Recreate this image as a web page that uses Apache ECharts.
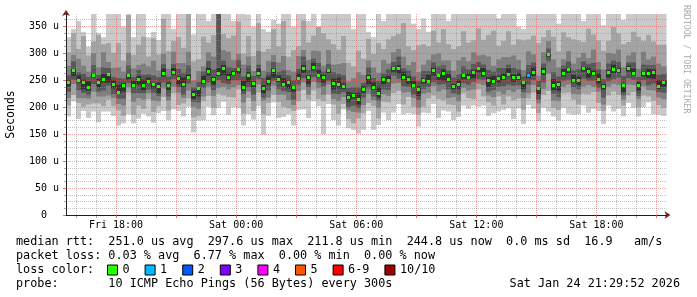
<!DOCTYPE html>
<html><head><meta charset="utf-8">
<script src="https://cdn.jsdelivr.net/npm/echarts@6/dist/echarts.min.js"></script>
<style>html,body{margin:0;padding:0;background:#fff}#c{width:697px;height:297px}</style>
</head><body><div id="c"></div>
<script>
// time: hours since Fri 00:00, one step every 15 min
const startHour = 15.5;
const stepHours = 0.25;
const endHour = 45.5;

// sorted ping values per step (microseconds): p1 = fastest ... p10 = slowest
const p1 = [183,211,178,193,180,192,172,192,192,184,166,170,187,170,179,188,183,171,189,193,176,196,193,183,201,153,175,176,201,185,199,210,186,200,198,166,187,177,202,149,184,209,180,182,187,166,195,196,180,211,202,150,206,176,166,196,161,158,151,158,193,158,167,190,176,190,206,187,189,187,164,190,189,206,180,194,192,176,182,203,197,203,201,203,184,189,192,195,198,178,198,169,204,197,174,199,192,183,175,199,188,186,187,203,190,197,193,169,203,192,197,183,208,199,183,200,209,187,186,184];
const p2 = [203,223,208,201,205,207,207,202,214,202,194,184,227,186,203,197,215,191,202,219,194,226,204,207,216,181,184,211,221,199,225,222,219,218,233,188,217,193,227,187,208,223,210,201,198,193,211,232,214,231,215,211,224,205,188,206,178,170,179,189,208,202,179,210,209,226,230,205,219,201,186,201,216,222,215,213,205,204,192,226,217,215,233,220,209,203,220,205,220,213,216,195,216,227,189,223,230,199,195,226,227,214,205,225,224,228,208,193,222,229,223,203,222,228,200,222,220,212,204,199];
const p3 = [217,243,217,217,216,229,220,220,222,217,206,203,237,210,217,214,226,212,211,235,212,238,227,217,231,201,197,220,238,221,236,238,233,237,241,209,229,211,242,212,218,240,223,223,213,204,230,246,223,247,235,223,242,215,211,219,194,191,190,204,225,213,199,224,221,244,245,227,228,217,199,225,227,239,229,233,217,219,211,236,231,233,244,241,222,219,229,224,232,228,233,217,226,241,207,234,262,212,211,238,242,225,224,238,241,238,229,205,238,243,241,214,242,241,215,239,232,231,218,215];
const p4 = [229,251,232,227,222,243,229,231,240,224,216,216,245,226,226,226,233,227,221,246,220,252,237,223,244,210,209,236,246,232,250,245,243,250,250,224,237,223,252,218,231,249,234,230,228,214,242,254,237,256,246,239,249,225,224,228,200,203,198,218,235,220,212,233,232,259,253,239,238,223,213,234,238,247,242,243,233,226,223,245,242,247,252,251,229,232,238,239,242,240,241,228,242,250,214,246,285,225,219,249,251,237,234,253,249,249,236,218,248,252,255,222,254,251,221,250,241,244,228,227];
const p5 = [239,258,246,233,231,255,237,246,246,235,225,229,252,236,242,232,245,235,226,257,232,260,243,237,253,215,220,243,259,242,258,260,249,259,262,231,247,237,258,226,242,255,247,239,235,229,250,264,243,268,255,246,263,233,235,234,210,216,205,227,243,232,218,243,247,266,262,250,244,236,221,244,245,259,251,249,247,234,234,252,252,254,265,257,238,244,246,250,257,247,250,234,254,258,224,260,294,232,230,257,263,246,241,266,255,259,244,233,255,263,264,228,266,259,231,257,254,253,234,238];
const p6 = [250,271,259,251,248,262,253,262,263,250,241,245,262,249,258,251,255,245,246,272,246,273,258,255,261,231,237,258,274,256,273,278,264,267,273,249,265,248,272,241,257,272,259,254,250,239,264,278,259,282,269,260,271,253,255,244,228,226,227,239,260,246,238,256,258,275,278,266,257,249,239,254,260,274,261,270,262,243,251,262,263,269,275,273,256,258,258,263,272,261,264,248,264,275,238,274,299,252,248,271,274,260,257,275,274,268,263,243,269,279,274,243,277,272,247,266,271,270,250,250];
const p7 = [259,285,265,262,256,278,260,274,273,256,254,253,277,256,269,260,261,259,256,280,257,280,271,264,277,237,247,266,286,270,390,287,275,273,288,257,277,258,279,254,265,284,265,268,259,250,271,294,269,290,282,266,280,265,262,259,236,237,237,245,274,254,248,263,270,284,294,272,268,257,249,267,267,283,276,278,268,255,261,276,270,280,284,279,269,266,273,273,279,273,270,257,278,283,249,281,309,265,257,277,285,268,270,285,280,282,270,252,281,287,284,258,283,283,256,279,278,278,260,262];
const p8 = [277,297,290,277,266,300,274,302,284,273,274,266,301,272,278,281,276,286,268,299,271,303,282,282,303,250,267,276,302,294,395,306,303,288,299,279,294,267,304,268,286,297,283,295,269,266,295,306,288,305,304,277,306,279,280,282,248,254,265,260,287,274,264,288,281,302,308,294,278,284,265,279,288,298,300,287,287,268,287,293,285,302,296,297,294,277,289,293,293,296,288,269,304,298,259,302,323,289,274,289,304,281,292,301,291,307,284,270,301,299,307,275,296,302,271,303,289,294,281,276];
const p9 = [302,337,308,332,296,322,334,317,319,301,319,286,371,297,316,331,294,328,298,364,304,323,330,310,383,285,289,331,320,334,398,336,328,333,359,299,332,295,356,303,308,345,313,360,294,306,313,361,320,333,349,337,326,317,307,332,283,276,305,290,327,299,319,308,326,332,336,356,313,306,315,317,313,342,320,345,317,308,313,341,320,324,346,325,334,342,314,323,341,316,326,324,326,333,319,330,343,331,304,339,330,326,324,321,346,335,324,305,323,349,337,317,321,340,331,323,334,322,316,316];
const p10 = [330,345,360,340,312,400,338,330,400,380,400,350,400,330,400,400,330,340,325,400,400,345,400,380,400,335,400,400,360,400,400,400,400,360,400,400,372,350,380,345,340,362,355,400,400,350,400,400,360,400,350,400,400,400,380,400,400,345,400,400,340,330,400,360,400,400,400,400,400,355,345,365,340,400,380,400,360,400,400,400,400,400,400,400,400,400,365,400,380,400,350,345,400,380,400,400,400,400,355,400,400,380,400,360,400,400,400,352,400,400,400,362,400,400,380,400,400,400,375,400];
const median = [245,268,250,245,236,258,246,252,260,242,228,240,258,240,252,240,248,242,238,262,240,264,254,243,256,224,234,248,266,252,262,272,255,262,270,236,258,244,262,235,248,268,252,242,245,236,254,272,255,274,258,255,268,244,242,238,218,222,215,232,255,236,225,252,250,272,272,255,252,240,232,250,248,268,258,262,252,238,242,258,255,264,272,262,250,248,254,256,260,256,255,245,258,265,234,266,297,240,242,262,270,250,250,272,266,262,252,238,265,270,268,240,272,262,240,262,262,264,238,245];
// lost pings (of 10) per step
const loss = [0,0,0,0,0,0,0,0,0,0,0,0,0,0,0,0,0,0,0,0,0,0,0,0,0,0,0,0,0,0,0,0,0,0,0,0,0,0,0,0,0,0,0,0,0,0,0,0,0,0,0,0,0,0,0,0,0,0,0,0,0,0,0,0,0,0,0,0,0,0,0,0,0,0,0,0,0,0,0,0,0,0,0,0,0,0,0,0,0,0,0,0,1,0,0,0,0,0,0,0,0,0,0,0,0,0,0,0,0,0,0,0,0,0,0,0,0,0,0,0];

const lossLevels = ['0','1','2','3','4','5','6-9','10/10'];
const lossColors = ['#26ff00','#00b8ff','#0059ff','#7e00ff','#ff00ff','#ff5500','#ff0000','#a10000'];
const smokeColors = ['#cacaca','#a4a4a4','#7e7e7e','#585858','#323232'];

const yMax = 373;
const yTicks = [0,50,100,150,200,250,300,350];
const majorHours = [18,21,24,27,30,33,36,39,42,45];
const minorHours = [16,17,19,20,22,23,25,26,28,29,31,32,34,35,37,38,40,41,43,44];
const labelHours = [18,24,30,36,42];

const rttStats = ['251.0','297.6','211.8','244.8'];
const rttSd = '0.0';
const rttAmS = '16.9';
const lossStats = ['0.03','6.77','0.00','0.00'];
const probeText = '10 ICMP Echo Pings (56 Bytes) every 300s';
const stampText = 'Sat Jan 24 21:29:52 2026';

const MONO = 'DejaVu Sans Mono';

function lossBucket(n){ return n <= 5 ? n : (n < 10 ? 6 : 7); }

const smokeRows = median.map((m, i) => [startHour + i * stepHours, p1[i], p2[i], p3[i], p4[i], p5[i], p6[i], p7[i], p8[i], p9[i], p10[i]]);

function renderSmoke(params, api) {
  const t = api.value(0);
  const x0 = Math.round(api.coord([t, 0])[0]);
  const x1 = Math.round(api.coord([t + stepHours, 0])[0]);
  const cs = params.coordSys;
  const children = [];
  for (let b = 0; b < 5; b++) {
    const lo = api.value(1 + b), hi = api.value(10 - b);
    const yLo = api.coord([t, lo])[1], yHi = api.coord([t, hi])[1];
    const shape = echarts.graphic.clipRectByRect(
      {x: x0, y: yHi, width: x1 - x0, height: yLo - yHi},
      {x: cs.x, y: cs.y, width: cs.width, height: cs.height});
    if (shape) children.push({type: 'rect', shape: shape, style: {fill: smokeColors[b]}});
  }
  return {type: 'group', children: children};
}

function makeMedianRender(color) {
  return function (params, api) {
    const t = api.value(0);
    const xc = api.coord([t + stepHours / 2, 0])[0];
    const y = api.coord([t, api.value(1)])[1];
    return {type: 'rect', shape: {x: Math.round(xc - 1.5), y: Math.round(y - 1.5), width: 3, height: 3}, style: {fill: color}};
  };
}

const medianSeries = lossLevels.map((name, li) => ({
  type: 'custom', name: name, xAxisIndex: 0, yAxisIndex: 0, z: 10,
  itemStyle: {color: lossColors[li]},
  encode: {x: 0, y: 1},
  data: median.map((m, i) => [startHour + i * stepHours, m, loss[i]]).filter(r => lossBucket(r[2]) === li),
  renderItem: makeMedianRender(lossColors[li])
}));

function hourLabel(h) {
  const day = h < 24 ? 'Fri' : 'Sat';
  const hh = Math.round(h) % 24;
  return day + ' ' + (hh < 10 ? '0' : '') + hh + ':00';
}

const dotted = [1, 1];
const option = {
  animation: false,
  backgroundColor: '#ffffff',
  grid: {left: 66, right: 30.5, top: 14, bottom: 82, containLabel: false, outerBoundsMode: 'none'},
  xAxis: [{
    type: 'value', min: startHour, max: endHour, position: 'bottom', z: 5,
    axisLine: {show: true, onZero: false, lineStyle: {color: '#1f1f1f', width: 1}},
    axisTick: {show: true, length: 3, customValues: majorHours, lineStyle: {color: 'rgba(222,79,79,0.8)'}},
    axisLabel: {customValues: labelHours, formatter: hourLabel, fontFamily: MONO, fontSize: 10, color: '#000', margin: 5},
    splitLine: {show: true, lineStyle: {color: 'rgba(222,79,79,0.5)', type: dotted, width: 1}}
  }, {
    type: 'value', min: startHour, max: endHour, position: 'bottom', z: 4,
    axisLine: {show: true, onZero: false, lineStyle: {color: '#801f1f', width: 1}, symbol: ['none', 'arrow'], symbolSize: [6, 6], symbolOffset: [0, 4]},
    axisTick: {show: true, length: 3, customValues: minorHours, lineStyle: {color: 'rgba(143,143,143,0.75)'}},
    axisLabel: {show: false},
    splitLine: {show: true, lineStyle: {color: 'rgba(143,143,143,0.55)', type: dotted, width: 1}}
  }],
  yAxis: [{
    type: 'value', min: 0, max: yMax, interval: 50, position: 'left', z: 5,
    name: 'Seconds', nameLocation: 'middle', nameGap: 49, nameRotate: 90,
    nameTextStyle: {fontFamily: MONO, fontSize: 11.5, color: '#000'},
    axisLine: {show: true, onZero: false, lineStyle: {color: '#1f1f1f', width: 1}},
    axisTick: {show: true, length: 3, customValues: yTicks, lineStyle: {color: 'rgba(222,79,79,0.8)'}},
    minorTick: {show: true, splitNumber: 4, length: 2, lineStyle: {color: 'rgba(143,143,143,0.75)'}},
    axisLabel: {customValues: yTicks, formatter: v => v === 0 ? '0  ' : v + ' u', fontFamily: MONO, fontSize: 10, color: '#000', margin: 7},
    splitLine: {show: true, lineStyle: {color: 'rgba(222,79,79,0.5)', type: dotted, width: 1}},
    minorSplitLine: {show: true, lineStyle: {color: 'rgba(143,143,143,0.55)', type: dotted, width: 1}}
  }, {
    type: 'value', min: 0, max: yMax, position: 'left', z: 4,
    axisLine: {show: true, onZero: false, lineStyle: {color: '#801f1f', width: 1}, symbol: ['none', 'arrow'], symbolSize: [6, 6], symbolOffset: [0, 4]},
    axisTick: {show: false}, axisLabel: {show: false}, splitLine: {show: false}
  }],
  legend: {
    data: lossLevels, left: 107, top: 264, padding: 0, itemGap: 15,
    itemWidth: 10, itemHeight: 10, icon: 'rect', selectedMode: false,
    itemStyle: {borderColor: '#000', borderWidth: 1},
    textStyle: {fontFamily: MONO, fontSize: 11.8, color: '#000'}
  },
  graphic: [
    {type: 'text', left: 16, top: 236, style: {text: 'median rtt:  ' + rttStats[0] + ' us avg  ' + rttStats[1] + ' us max  ' + rttStats[2] + ' us min  ' + rttStats[3] + ' us now  ' + rttSd + ' ms sd  ' + rttAmS + '   am/s', font: '11.8px "' + MONO + '"', fill: '#000'}},
    {type: 'text', left: 16, top: 250, style: {text: 'packet loss: ' + lossStats[0] + ' % avg  ' + lossStats[1] + ' % max  ' + lossStats[2] + ' % min  ' + lossStats[3] + ' % now', font: '11.8px "' + MONO + '"', fill: '#000'}},
    {type: 'text', left: 16, top: 264, style: {text: 'loss color:', font: '11.8px "' + MONO + '"', fill: '#000'}},
    {type: 'text', left: 16, top: 278, style: {text: 'probe:       ' + probeText, font: '11.8px "' + MONO + '"', fill: '#000'}},
    {type: 'text', right: 17, top: 278, style: {text: stampText, font: '11.8px "' + MONO + '"', fill: '#000'}},
    {type: 'text', x: 682, y: 5, rotation: -Math.PI / 2, style: {text: 'RRDTOOL / TOBI OETIKER', font: '8.2px "' + MONO + '"', fill: '#aaaaaa', align: 'left', verticalAlign: 'bottom'}}
  ],
  series: [{
    type: 'custom', name: 'smoke', xAxisIndex: 0, yAxisIndex: 0, z: 2,
    encode: {x: 0, y: [1, 10]},
    data: smokeRows,
    renderItem: renderSmoke
  }].concat(medianSeries)
};

const chart = echarts.init(document.getElementById('c'), null, {renderer: 'canvas'});
chart.setOption(option);
</script>
</body></html>
